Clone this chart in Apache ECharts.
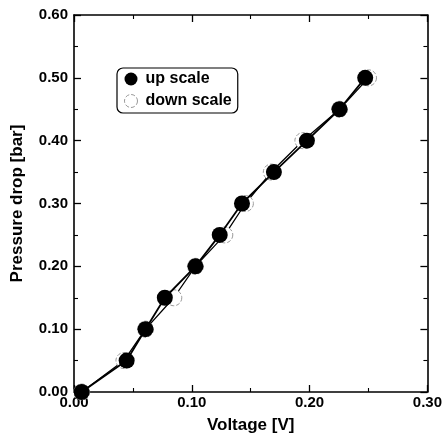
<!DOCTYPE html>
<html><head><meta charset="utf-8">
<script src="https://cdn.jsdelivr.net/npm/echarts@6/dist/echarts.min.js"></script>
<style>html,body{margin:0;padding:0;background:#fff}#c{width:445px;height:439px}</style>
</head><body><div id="c"></div>
<script>
var upX = [0.0065, 0.0447, 0.0607, 0.0771, 0.1031, 0.1237, 0.1426, 0.1697, 0.1977, 0.2254, 0.2472];
var upY = [0.00, 0.05, 0.10, 0.15, 0.20, 0.25, 0.30, 0.35, 0.40, 0.45, 0.50];
var downX = [0.0065, 0.0424, 0.0607, 0.0847, 0.1031, 0.1280, 0.1455, 0.1675, 0.1943, 0.2254, 0.2500];
var downY = [0.00, 0.05, 0.10, 0.15, 0.20, 0.25, 0.30, 0.35, 0.40, 0.45, 0.50];
var seriesNames = ['up scale', 'down scale'];
var xTitle = 'Voltage [V]';
var yTitle = 'Pressure drop [bar]';

function pairs(xs, ys){ return xs.map(function(x,i){ return [x, ys[i]]; }); }
var font = 'Liberation Sans, Arial, sans-serif';
var lbl = {fontFamily: font, fontWeight: 'bold', fontSize: 15, color: '#000', formatter: function(v){ return v.toFixed(2); }};
var axisCommon = {
  type: 'value',
  axisLine: {show: true, onZero: false, lineStyle: {color: '#000', width: 1.6}},
  axisTick: {show: true, inside: true, length: 7, lineStyle: {color: '#000', width: 1.3}},
  minorTick: {show: true, splitNumber: 2, length: 4, lineStyle: {color: '#000', width: 1.1}},
  splitLine: {show: false}
};
function ax(extra){ return Object.assign({}, axisCommon, extra); }

var chart = echarts.init(document.getElementById('c'), null, {renderer: 'canvas'});
chart.setOption({
  animation: false,
  backgroundColor: '#fff',
  grid: {left: 74, right: 17, top: 15, bottom: 43},
  legend: {
    left: 117, top: 68, orient: 'vertical',
    data: [
      {name: seriesNames[0], icon: 'circle', itemStyle: {color: '#000'}},
      {name: seriesNames[1], icon: 'circle', itemStyle: {color: '#fff', borderColor: '#999', borderWidth: 1, borderType: 'dashed'}}
    ],
    itemWidth: 19, itemHeight: 13, itemGap: 6,
    padding: [3, 6, 4, 7],
    borderColor: '#000', borderWidth: 1.2, borderRadius: 6,
    textStyle: {fontFamily: font, fontWeight: 'bold', fontSize: 16, color: '#000'}
  },
  xAxis: [
    ax({min: 0, max: 0.3, interval: 0.1, position: 'bottom', axisLabel: Object.assign({margin: 3}, lbl),
        name: xTitle, nameLocation: 'middle', nameGap: 25,
        nameTextStyle: {fontFamily: font, fontWeight: 'bold', fontSize: 17, color: '#000'}}),
    ax({min: 0, max: 0.3, interval: 0.1, position: 'top', axisLabel: {show: false}})
  ],
  yAxis: [
    ax({min: 0, max: 0.6, interval: 0.1, position: 'left', axisLabel: Object.assign({margin: 6}, lbl),
        name: yTitle, nameLocation: 'middle', nameGap: 48,
        nameTextStyle: {fontFamily: font, fontWeight: 'bold', fontSize: 17, color: '#000'}}),
    ax({min: 0, max: 0.6, interval: 0.1, position: 'right', axisLabel: {show: false}})
  ],
  series: [
    {name: seriesNames[1], type: 'line', data: pairs(downX, downY), symbol: 'circle', symbolSize: 16,
     lineStyle: {color: '#000', width: 1.3},
     itemStyle: {color: '#fff', borderColor: '#999', borderWidth: 1, borderType: 'dashed'}, z: 2},
    {name: seriesNames[0], type: 'line', data: pairs(upX, upY), symbol: 'circle', symbolSize: 16,
     lineStyle: {color: '#000', width: 1.8},
     itemStyle: {color: '#000'}, z: 3}
  ]
});
</script></body></html>
